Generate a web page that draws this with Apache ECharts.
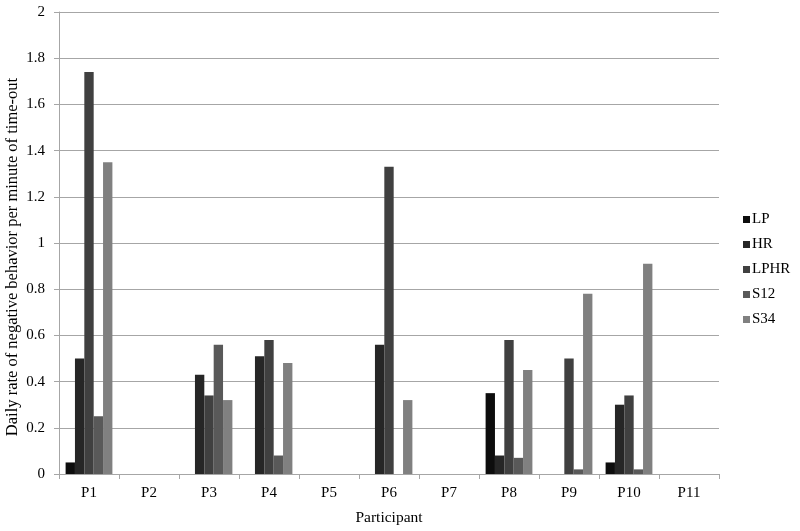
<!DOCTYPE html>
<html>
<head>
<meta charset="utf-8">
<script src="https://cdn.jsdelivr.net/npm/echarts@6/dist/echarts.min.js"></script>
<style>
  html, body { margin: 0; padding: 0; background: #fff; }
  #chart { width: 800px; height: 531px; }
</style>
</head>
<body>
<div id="chart"></div>
<script>
// categories and series values
const participants = ["P1", "P2", "P3", "P4", "P5", "P6", "P7", "P8", "P9", "P10", "P11"];
const lp   = [0.05, 0, 0,    0,    0, 0,    0, 0.35, 0,    0.05, 0];
const hr   = [0.50, 0, 0.43, 0.51, 0, 0.56, 0, 0.08, 0,    0.30, 0];
const lphr = [1.74, 0, 0.34, 0.58, 0, 1.33, 0, 0.58, 0.50, 0.34, 0];
const s12  = [0.25, 0, 0.56, 0.08, 0, 0,    0, 0.07, 0.02, 0.02, 0];
const s34  = [1.35, 0, 0.32, 0.48, 0, 0.32, 0, 0.45, 0.78, 0.91, 0];

const seriesNames = ["LP", "HR", "LPHR", "S12", "S34"];
const seriesData = [lp, hr, lphr, s12, s34];
const colors = ["#0d0d0d", "#262626", "#404040", "#595959", "#808080"];

const font = "Liberation Serif";
const chart = echarts.init(document.getElementById("chart"));

const option = {
  animation: false,
  textStyle: { fontFamily: font },
  grid: { left: 59, right: 81, top: 12, bottom: 57, containLabel: false, outerBoundsMode: "none" },
  legend: {
    orient: "vertical",
    left: 738,
    top: 207,
    itemWidth: 7,
    itemHeight: 7,
    itemGap: 10,
    icon: "rect",
    data: seriesNames,
    textStyle: { fontFamily: font, fontSize: 15, color: "#000", lineHeight: 15, padding: [0, 0, 0, -3] }
  },
  xAxis: {
    type: "category",
    data: participants,
    name: "Participant",
    nameLocation: "middle",
    nameGap: 36,
    nameMoveOverlap: false,
    nameTextStyle: { fontFamily: font, fontSize: 15.5, color: "#000" },
    axisLine: { lineStyle: { color: "#a6a6a6" } },
    axisTick: { show: true, length: 5, lineStyle: { color: "#a6a6a6" } },
    axisLabel: { fontFamily: font, fontSize: 15, color: "#000", margin: 12 },
    splitLine: { show: false }
  },
  yAxis: {
    type: "value",
    min: 0,
    max: 2,
    interval: 0.2,
    name: "Daily rate of negative behavior per minute of time-out",
    nameLocation: "middle",
    nameRotate: 90,
    nameGap: 38,
    nameMoveOverlap: false,
    nameTextStyle: { fontFamily: font, fontSize: 16.5, color: "#000", padding: [0, 28, 0, 0] },
    axisLine: { show: true, lineStyle: { color: "#a6a6a6" } },
    axisTick: { show: true, length: 5, lineStyle: { color: "#a6a6a6" } },
    axisLabel: {
      fontFamily: font, fontSize: 15, color: "#000", margin: 14,
      formatter: v => String(Math.round(v * 10) / 10)
    },
    splitLine: { lineStyle: { color: "#a6a6a6", width: 1 } }
  },
  series: seriesNames.map((name, i) => ({
    name: name,
    type: "bar",
    data: seriesData[i],
    barGap: "0%",
    barCategoryGap: "22%",
    itemStyle: { color: colors[i] }
  }))
};

chart.setOption(option);
</script>
</body>
</html>
